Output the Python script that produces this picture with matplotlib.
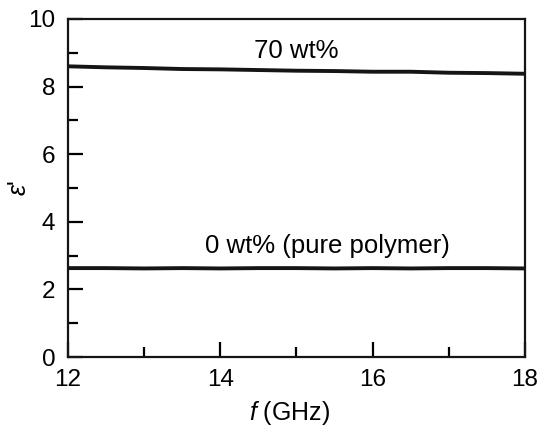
import matplotlib
matplotlib.use("Agg")
import matplotlib.pyplot as plt
from matplotlib.ticker import MultipleLocator

plt.rcParams['font.family'] = ['Liberation Sans', 'DejaVu Sans']
plt.rcParams['mathtext.fontset'] = 'custom'
plt.rcParams['mathtext.it'] = 'Liberation Sans:italic'

freq = [12.0, 12.5, 13.0, 13.5, 14.0, 14.5, 15.0, 15.5, 16.0, 16.5, 17.0, 17.5, 18.0]
eps_70 = [8.60, 8.57, 8.55, 8.52, 8.51, 8.49, 8.47, 8.46, 8.44, 8.44, 8.41, 8.40, 8.38]
eps_0 = [2.63, 2.63, 2.62, 2.63, 2.62, 2.63, 2.63, 2.62, 2.63, 2.62, 2.63, 2.63, 2.62]

fig = plt.figure(figsize=(5.39, 4.30), dpi=100)
ax = fig.add_axes([68 / 539, 1 - 357 / 430, 457 / 539, 338 / 430])

ax.plot(freq, eps_70, color='#151515', lw=2.8)
ax.plot(freq, eps_0, color='#151515', lw=2.8)

ax.text(15.0, 8.85, '70 wt%', ha='center', va='baseline', fontsize=18.5)
ax.text(15.4, 3.08, '0 wt% (pure polymer)', ha='center', va='baseline', fontsize=18.5)

ax.set_xlim(12, 18)
ax.set_ylim(0, 10)
ax.xaxis.set_major_locator(MultipleLocator(2))
ax.xaxis.set_minor_locator(MultipleLocator(1))
ax.yaxis.set_major_locator(MultipleLocator(2))
ax.yaxis.set_minor_locator(MultipleLocator(1))
ax.tick_params(which='both', direction='in', width=1.6, labelsize=17.5, top=False, right=False)
ax.tick_params(axis='x', pad=9)
ax.tick_params(axis='y', pad=9)
ax.tick_params(which='major', length=11)
ax.tick_params(which='minor', length=7)
for s in ax.spines.values():
    s.set_linewidth(1.6)
    s.set_color('#151515')

ax.set_xlabel(r'$f$ (GHz)', fontsize=18)
ax.xaxis.set_label_coords(0.485, -0.125)
ax.set_ylabel(r"$\varepsilon$'", fontsize=18)
ax.yaxis.set_label_coords(-0.08, 0.5)

fig.savefig('out.png', dpi=100)
